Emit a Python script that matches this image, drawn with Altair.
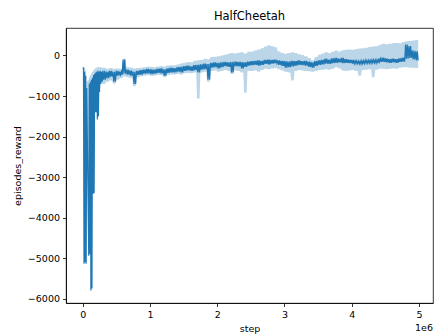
import altair as alt
import pandas as pd

# ---- early part of the run (steps in millions) ----
early_x = [0.0, 0.012, 0.02, 0.028, 0.036, 0.044, 0.052, 0.06, 0.09, 0.098, 0.106, 0.114,
           0.122, 0.13, 0.138, 0.146, 0.154, 0.162, 0.17, 0.178, 0.186, 0.194, 0.202, 0.21,
           0.218, 0.226, 0.234, 0.242, 0.25, 0.26, 0.27, 0.28, 0.29]
early_y = [-310, -310, -5140, -400, -5100, -500, -5140, -800, -4940, -700, -4900, -650,
           -5800, -600, -5750, -550, -3410, -480, -3400, -450, -1400, -420, -1400, -400,
           -1580, -380, -1500, -400, -900, -380, -700, -400, -650]
early_lo = [-340, -340, -5630, -700, -5200, -800, -5200, -1000, -5000, -900, -4950, -850,
            -5850, -800, -5800, -750, -3450, -700, -3450, -650, -1450, -600, -1450, -550,
            -1620, -520, -1550, -500, -950, -480, -750, -480, -700]
early_hi = [-280, -280, -280, -300, -300, -380, -400, -650, -600, -550, -520, -480,
            -480, -430, -420, -400, -380, -360, -350, -330, -320, -310, -300, -300,
            -290, -290, -280, -290, -290, -280, -290, -300, -300]

# ---- main part, one sample every 0.05M steps from 0.30M to 4.95M ----
main_x = [round(0.30 + 0.05 * i, 2) for i in range(94)]
line_hi = [-380, -400, -380, -400, -380, -400, -100, -350, -370, -400,
           -380, -360, -350, -330, -340, -350, -330, -320, -340, -320,
           -300, -310, -290, -280, -260, -250, -270, -240, -230, -220,
           -200, -210, -180, -170, -180, -170, -160, -170, -160, -150,
           -160, -160, -170, -150, -140, -130, -120, -130, -110, -100,
           -110, -100, -120, -130, -140, -150, -130, -140, -120, -140,
           -130, -150, -170, -140, -120, -110, -80, -100, -70, -60,
           -80, -60, -90, -100, -110, -130, -140, -130, -120, -120,
           -110, -110, -80, -50, -70, -90, -80, -90, -70, -50,
           270, 230, 120, 100]
line_lo = [-600, -560, -520, -650, -500, -480, -450, -470, -500, -700,
           -480, -470, -450, -440, -460, -450, -430, -440, -500, -430,
           -420, -420, -400, -420, -380, -370, -380, -360, -420, -350,
           -340, -600, -300, -290, -320, -290, -260, -280, -420, -260,
           -270, -320, -280, -250, -240, -230, -250, -230, -210, -220,
           -200, -190, -230, -260, -300, -290, -270, -250, -230, -240,
           -250, -280, -300, -260, -230, -220, -200, -210, -190, -180,
           -170, -190, -180, -190, -200, -200, -210, -200, -190, -190,
           -180, -190, -160, -160, -170, -180, -170, -180, -160, -150,
           -80, -60, -100, -120]
band_hi = [-300, -330, -310, -330, -320, -330, -80, -290, -300, -320,
           -310, -300, -290, -280, -280, -290, -270, -260, -270, -250,
           -240, -240, -220, -200, -180, -160, -170, -130, -120, -110,
           -80, -90, -40, -30, -20, 0, 20, 40, 60, 50,
           70, 80, 50, 90, 100, 120, 150, 180, 220, 250,
           230, 200, 100, 60, 40, 60, 80, 60, 30, 10,
           -20, -60, -120, -40, 20, 50, 80, 60, 90, 120,
           100, 130, 140, 150, 140, 160, 170, 180, 190, 210,
           220, 230, 260, 290, 280, 290, 300, 310, 300, 330,
           350, 360, 370, 380]
band_lo = [-700, -650, -620, -700, -600, -560, -520, -540, -560, -760,
           -540, -520, -500, -490, -500, -500, -480, -490, -540, -480,
           -470, -470, -460, -470, -440, -430, -440, -420, -1060, -420,
           -400, -650, -380, -370, -400, -380, -360, -380, -460, -370,
           -380, -420, -920, -380, -380, -370, -400, -360, -330, -340,
           -320, -310, -340, -370, -400, -420, -620, -380, -360, -370,
           -380, -390, -400, -380, -360, -350, -340, -350, -330, -290,
           -320, -370, -380, -370, -360, -380, -500, -360, -350, -340,
           -540, -350, -330, -330, -340, -330, -320, -330, -300, -290,
           -290, -300, -300, -310]

# ---- build tables ----
line_rows = [{"step": x * 1e6, "reward": y} for x, y in zip(early_x, early_y)]
band_rows = [{"step": x * 1e6, "lo": lo, "hi": hi} for x, lo, hi in zip(early_x, early_lo, early_hi)]
offsets = [0.0, 0.0125, 0.025, 0.0375]
for x, hi, lo, bh, bl in zip(main_x, line_hi, line_lo, band_hi, band_lo):
    for k, off in enumerate(offsets):
        line_rows.append({"step": (x + off) * 1e6, "reward": hi if k % 2 == 0 else lo})
    band_rows.append({"step": x * 1e6, "lo": bl, "hi": bh})
    band_rows.append({"step": (x + 0.0375) * 1e6, "lo": bl, "hi": bh})

line_df = pd.DataFrame(line_rows)
band_df = pd.DataFrame(band_rows)

x_ticks = [0, 1e6, 2e6, 3e6, 4e6, 5e6]
y_ticks = [-6000, -5000, -4000, -3000, -2000, -1000, 0]

FONT = "DejaVu Sans"
xscale = alt.Scale(domain=[-0.248e6, 5.208e6], nice=False, zero=False)
yscale = alt.Scale(domain=[-6107, 678], nice=False, zero=False)

band = alt.Chart(band_df).mark_area(color="#1f77b4", opacity=0.3).encode(
    x=alt.X("step:Q", scale=xscale,
            axis=alt.Axis(values=x_ticks, labelExpr="format(datum.value / 1e6, 'd')",
                          title="step", titlePadding=4)),
    y=alt.Y("lo:Q", scale=yscale,
            axis=alt.Axis(values=y_ticks, format="d", title="episodes_reward", titlePadding=5)),
    y2="hi:Q",
)

line = alt.Chart(line_df).mark_line(color="#1f77b4", strokeWidth=1.2).encode(
    x=alt.X("step:Q", scale=xscale),
    y=alt.Y("reward:Q", scale=yscale),
)

note = alt.Chart(pd.DataFrame({"t": ["1e6"]})).mark_text(
    align="right", baseline="bottom", font=FONT, fontSize=9.5, color="black"
).encode(text="t:N", x=alt.value(367), y=alt.value(305))

chart = alt.layer(band, line, note).properties(
    width=367,
    height=275,
    title=alt.TitleParams("HalfCheetah", font=FONT, fontSize=11.5, fontWeight="normal",
                          color="black", offset=6),
    padding={"left": 66, "top": 28, "right": 2, "bottom": 32},
    autosize="none",
).configure_view(
    stroke="black", strokeWidth=0.8
).configure_axis(
    grid=False,
    domainColor="black", domainWidth=0.8,
    tickColor="black", tickWidth=0.8, tickSize=3.5,
    labelFont=FONT, labelFontSize=9.5, labelColor="black", labelPadding=3,
    titleFont=FONT, titleFontSize=9.5, titleFontWeight="normal", titleColor="black",
)

chart.save("out.html", embed_options={"renderer": "svg", "actions": False})
